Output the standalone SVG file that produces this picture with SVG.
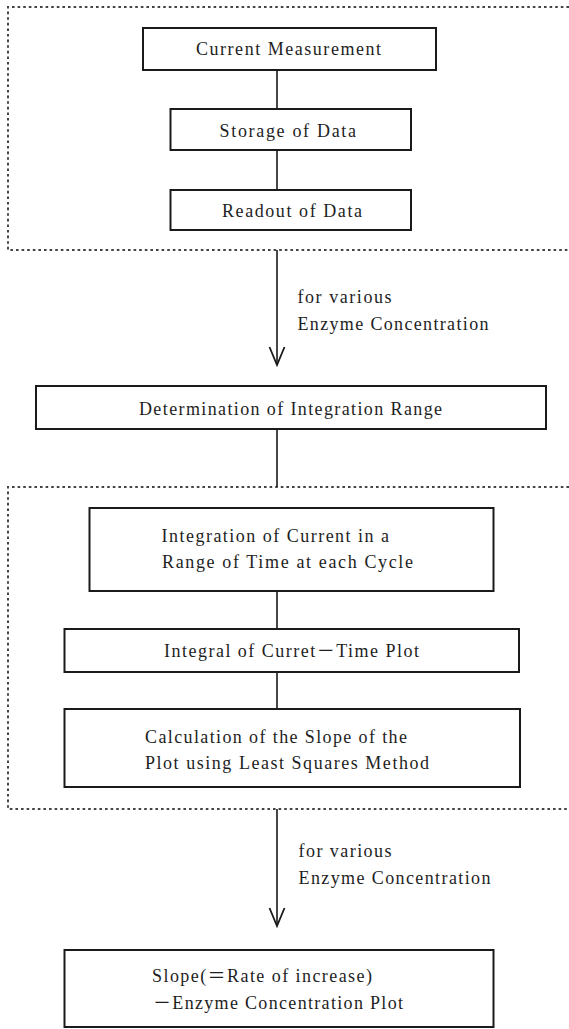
<svg xmlns="http://www.w3.org/2000/svg" width="569" height="1029" viewBox="0 0 569 1029">
<style>
.box{fill:#fff;stroke:#1a1a1a;stroke-width:2}
.frame{fill:none;stroke:#444;stroke-width:2;stroke-dasharray:2.6 3}
.ln{fill:none;stroke:#1a1a1a;stroke-width:1.6}
text{font-family:"Liberation Serif","Noto Sans CJK JP",serif;font-size:18px;fill:#1e1e1e}
</style>
<defs>
<marker id="v" viewBox="-20 -10 22 20" refX="0" refY="0" markerWidth="22" markerHeight="20" markerUnits="userSpaceOnUse" orient="auto">
<path d="M-18,-7.5 L0,0 L-18,7.5" fill="none" stroke="#1a1a1a" stroke-width="1.8"/>
</marker>
</defs>
<rect width="569" height="1029" fill="#fff"/>
<g id="frame1"><path class="frame" d="M569,7 H8 V250 H569"/></g>
<g id="frame2"><path class="frame" d="M569,487 H8 V809 H569"/></g>
<g id="connectors">
<line class="ln" x1="277" y1="70" x2="277" y2="109"/>
<line class="ln" x1="277" y1="150" x2="277" y2="190"/>
<line class="ln" x1="277" y1="250" x2="277" y2="365" marker-end="url(#v)"/>
<line class="ln" x1="277" y1="429" x2="277" y2="487"/>
<line class="ln" x1="277" y1="591" x2="277" y2="629"/>
<line class="ln" x1="277" y1="672" x2="277" y2="709"/>
<line class="ln" x1="277" y1="809" x2="277" y2="926" marker-end="url(#v)"/>
<text x="297.5" y="303" textLength="94" lengthAdjust="spacing">for various</text>
<text x="297.5" y="330" textLength="191" lengthAdjust="spacing">Enzyme Concentration</text>
<text x="298.5" y="857" textLength="93" lengthAdjust="spacing">for various</text>
<text x="298.5" y="884" textLength="192" lengthAdjust="spacing">Enzyme Concentration</text>
</g>
<g id="current">
<rect class="box" x="143" y="28" width="293" height="42"/>
<text x="196" y="55" textLength="185" lengthAdjust="spacing">Current Measurement</text>
</g>
<g id="storage">
<rect class="box" x="170.5" y="109" width="240.5" height="41"/>
<text x="219.5" y="137" textLength="136.5" lengthAdjust="spacing">Storage of Data</text>
</g>
<g id="readout">
<rect class="box" x="170.5" y="190" width="240.5" height="40"/>
<text x="222" y="217" textLength="140" lengthAdjust="spacing">Readout of Data</text>
</g>
<g id="determination">
<rect class="box" x="36" y="386" width="510" height="43"/>
<text x="139" y="415" textLength="303" lengthAdjust="spacing">Determination of Integration Range</text>
</g>
<g id="integration">
<rect class="box" x="89.5" y="508" width="404" height="83"/>
<text x="161.5" y="542" textLength="227.5" lengthAdjust="spacing">Integration of Current in a</text>
<text x="162" y="568" textLength="251" lengthAdjust="spacing">Range of Time at each Cycle</text>
</g>
<g id="integral">
<rect class="box" x="64.5" y="629" width="454.5" height="43"/>
<text x="164" y="657" textLength="255" lengthAdjust="spacing">Integral of Curret－Time Plot</text>
</g>
<g id="calculation">
<rect class="box" x="64.5" y="709" width="455.5" height="78"/>
<text x="145" y="743" textLength="262" lengthAdjust="spacing">Calculation of the Slope of the</text>
<text x="145" y="769" textLength="284" lengthAdjust="spacing">Plot using Least Squares Method</text>
</g>
<g id="slope">
<rect class="box" x="64.5" y="950" width="429" height="77"/>
<text x="152" y="982" textLength="220" lengthAdjust="spacing">Slope(＝Rate of increase)</text>
<text x="153" y="1009" textLength="250" lengthAdjust="spacing">－Enzyme Concentration Plot</text>
</g>
</svg>
